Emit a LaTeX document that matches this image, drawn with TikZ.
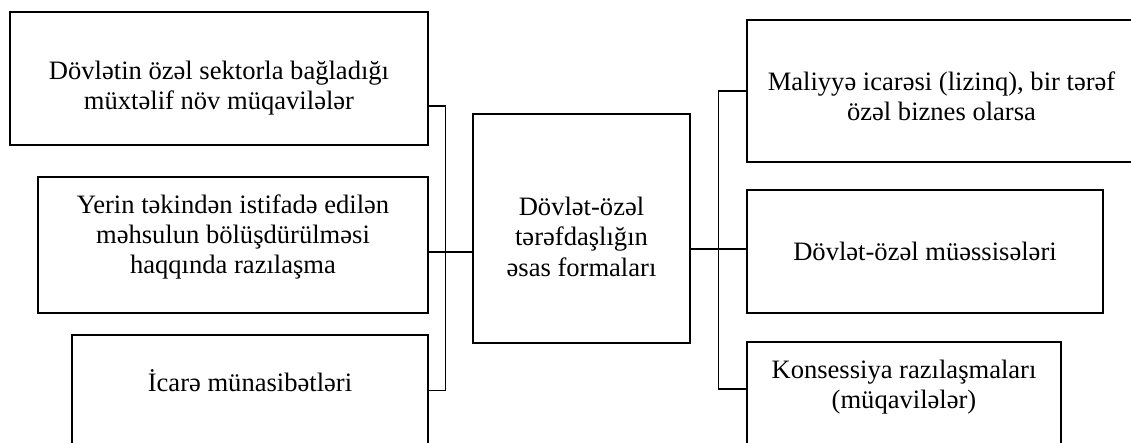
\documentclass[tikz,border=0pt]{standalone}
\usepackage{fontspec}
\setmainfont{Liberation Serif}
\usetikzlibrary{positioning,calc}
\tikzset{forma/.style={draw, rectangle, line width=0.9pt},
         yazi/.style={align=center, inner sep=0pt, font=\fontsize{18.9}{21.5}\selectfont},
         xett/.style={line width=0.9pt}}

\begin{document}
\begin{tikzpicture}
            \useasboundingbox (0,0) rectangle (28.275,11.05);
            % sol tərəf
            \node[forma, minimum width=10.45cm, minimum height=3.325cm] (l1) at (5.475,9.0875) {};
            \node[yazi] (l1t) at ([yshift=-2.4mm]l1.center) {Dövlətin özəl sektorla bağladığı\\müxtəlif növ müqavilələr};
            \node[forma, minimum width=9.75cm, minimum height=3.4cm] (l2) at (5.825,4.925) {};
            \node[yazi] (l2t) at ([yshift=2mm]l2.center) {Yerin təkindən istifadə edilən\\məhsulun bölüşdürülməsi\\haqqında razılaşma};
            \node[forma, minimum width=8.9cm, minimum height=2.775cm] (l3) at (6.25,1.2875) {};
            \node[yazi] (l3t) at ([yshift=2.4mm]l3.center) {İcarə münasibətləri};
            % mərkəz
            \node[forma, minimum width=5.425cm, minimum height=5.725cm] (c) at (14.5375,5.3375) {};
            \node[yazi] (ct) at ([yshift=-2.1mm]c.center) {Dövlət-özəl\\tərəfdaşlığın\\əsas formaları};
            % sağ tərəf
            \node[forma, minimum width=9.725cm, minimum height=3.55cm] (r1) at (23.5375,8.775) {};
            \node[yazi] (r1t) at ([yshift=-1.25mm]r1.center) {Maliyyə icarəsi (lizinq), bir tərəf\\özəl biznes olarsa};
            \node[forma, minimum width=8.9cm, minimum height=3.075cm] (r2) at (23.125,4.7625) {};
            \node[yazi] (r2t) at (r2.center) {Dövlət-özəl müəssisələri};
            \node[forma, minimum width=7.85cm, minimum height=2.6cm] (r3) at (22.6,1.2) {};
            \node[yazi] (r3t) at ([yshift=1.75mm]r3.center) {Konsessiya razılaşmaları\\(müqavilələr)};
            \draw[xett] ([yshift=-6.9mm]l1.east) -| ([xshift=4.25mm]l3.east) -- (l3.east);
            \draw[xett] ([yshift=-5.9mm]c.west) -- ([yshift=-5.9mm]c.west -| l2.east);
            \draw[xett] (r1.west) -- ++(-0.7,0) |- ([yshift=1.25mm]r3.west);
            \draw[xett] ([yshift=-5.1mm]c.east) -- ([yshift=-5.1mm]c.east -| r2.west);
        \end{tikzpicture}
\end{document}
